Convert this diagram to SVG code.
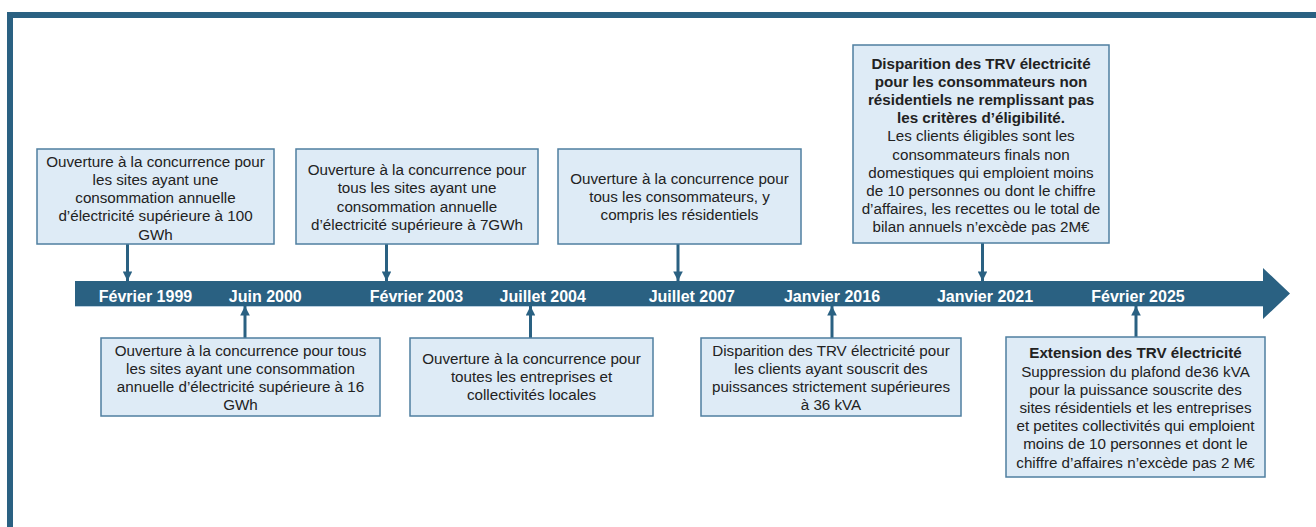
<svg xmlns="http://www.w3.org/2000/svg" width="1316" height="527" viewBox="0 0 1316 527">
<defs>
<style>
.box{fill:#deebf6;stroke:#4f7fa0;stroke-width:1.5}
.t{font-family:"Liberation Sans",Arial,sans-serif;font-size:15.2px;fill:#222;text-anchor:middle}
.b{font-weight:bold}
.lbl{font-family:"Liberation Sans",Arial,sans-serif;font-size:16px;font-weight:bold;fill:#ffffff;text-anchor:middle}
.con{stroke:#2a6182;stroke-width:3;fill:none}
</style>
<marker id="ah" viewBox="0 0 10 10" refX="10" refY="5" markerWidth="3.2" markerHeight="3.2" markerUnits="strokeWidth" orient="auto">
<path d="M0,0 L10,5 L0,10 Z" fill="#2a6182"/>
</marker>
</defs>
<rect width="1316" height="527" fill="#ffffff"/>
<rect x="10" y="15" width="1400" height="600" fill="none" stroke="#2a6182" stroke-width="6"/>
<g id="timeline">
<path d="M75,281 L1263,281 L1263,268 L1290,293.5 L1263,319 L1263,306 L75,306 Z" fill="#2a6182"/>
<line x1="75" y1="306.5" x2="1263" y2="306.5" stroke="#b9cfe0" stroke-width="1"/>
<text class="lbl" x="145.5" y="301.5">Février 1999</text>
<text class="lbl" x="265.3" y="301.5">Juin 2000</text>
<text class="lbl" x="416.5" y="301.5">Février 2003</text>
<text class="lbl" x="542.7" y="301.5">Juillet 2004</text>
<text class="lbl" x="691.8" y="301.5">Juillet 2007</text>
<text class="lbl" x="832" y="301.5">Janvier 2016</text>
<text class="lbl" x="985" y="301.5">Janvier 2021</text>
<text class="lbl" x="1138" y="301.5">Février 2025</text>
</g>
<g id="connectors">
<line class="con" x1="127.5" y1="244" x2="127.5" y2="281" marker-end="url(#ah)"/>
<line class="con" x1="386.5" y1="244" x2="386.5" y2="281" marker-end="url(#ah)"/>
<line class="con" x1="678" y1="244" x2="678" y2="281" marker-end="url(#ah)"/>
<line class="con" x1="982.5" y1="243" x2="982.5" y2="281" marker-end="url(#ah)"/>
<line class="con" x1="245" y1="338" x2="245" y2="306" marker-end="url(#ah)"/>
<line class="con" x1="530.5" y1="338" x2="530.5" y2="306" marker-end="url(#ah)"/>
<line class="con" x1="832" y1="338" x2="832" y2="306" marker-end="url(#ah)"/>
<line class="con" x1="1136" y1="337" x2="1136" y2="306" marker-end="url(#ah)"/>
</g>
<g id="n-1999">
<rect class="box" x="37" y="149" width="237" height="95"/>
<text class="t"><tspan x="155.5" y="166.7">Ouverture à la concurrence pour</tspan><tspan x="155.5" y="184.9">les sites ayant une</tspan><tspan x="155.5" y="203.1">consommation annuelle</tspan><tspan x="155.5" y="221.3">d’électricité supérieure à 100</tspan><tspan x="155.5" y="239.5">GWh</tspan></text>
</g>
<g id="n-2003">
<rect class="box" x="296" y="149" width="242" height="95"/>
<text class="t"><tspan x="417" y="175.2">Ouverture à la concurrence pour</tspan><tspan x="417" y="193.4">tous les sites ayant une</tspan><tspan x="417" y="211.6">consommation annuelle</tspan><tspan x="417" y="229.8">d’électricité supérieure à 7GWh</tspan></text>
</g>
<g id="n-2007">
<rect class="box" x="558" y="149" width="243" height="95"/>
<text class="t"><tspan x="679.5" y="184">Ouverture à la concurrence pour</tspan><tspan x="679.5" y="202.2">tous les consommateurs, y</tspan><tspan x="679.5" y="220.4">compris les résidentiels</tspan></text>
</g>
<g id="n-2021">
<rect class="box" x="853" y="45" width="256" height="198"/>
<text class="t"><tspan class="b" x="981" y="68.5">Disparition des TRV électricité</tspan><tspan class="b" x="981" y="86.7">pour les consommateurs non</tspan><tspan class="b" x="981" y="104.9">résidentiels ne remplissant pas</tspan><tspan class="b" x="981" y="123.1">les critères d’éligibilité.</tspan><tspan x="981" y="141.3">Les clients éligibles sont les</tspan><tspan x="981" y="159.5">consommateurs finals non</tspan><tspan x="981" y="177.7">domestiques qui emploient moins</tspan><tspan x="981" y="195.9">de 10 personnes ou dont le chiffre</tspan><tspan x="981" y="214.1">d’affaires, les recettes ou le total de</tspan><tspan x="981" y="232.3">bilan annuels n’excède pas 2M€</tspan></text>
</g>
<g id="n-2000">
<rect class="box" x="101" y="338" width="279" height="78"/>
<text class="t"><tspan x="240.5" y="355.5">Ouverture à la concurrence pour tous</tspan><tspan x="240.5" y="373.7">les sites ayant une consommation</tspan><tspan x="240.5" y="391.9">annuelle d’électricité supérieure à 16</tspan><tspan x="240.5" y="410.1">GWh</tspan></text>
</g>
<g id="n-2004">
<rect class="box" x="410" y="338" width="243" height="78"/>
<text class="t"><tspan x="531.5" y="364">Ouverture à la concurrence pour</tspan><tspan x="531.5" y="382.2">toutes les entreprises et</tspan><tspan x="531.5" y="400.4">collectivités locales</tspan></text>
</g>
<g id="n-2016">
<rect class="box" x="701" y="338" width="260" height="78"/>
<text class="t"><tspan x="831" y="355.5">Disparition des TRV électricité pour</tspan><tspan x="831" y="373.7">les clients ayant souscrit des</tspan><tspan x="831" y="391.9">puissances strictement supérieures</tspan><tspan x="831" y="410.1">à 36 kVA</tspan></text>
</g>
<g id="n-2025">
<rect class="box" x="1006" y="337" width="259" height="140"/>
<text class="t"><tspan class="b" x="1135.5" y="358.4">Extension des TRV électricité</tspan><tspan x="1135.5" y="376.6">Suppression du plafond de36 kVA</tspan><tspan x="1135.5" y="394.8">pour la puissance souscrite des</tspan><tspan x="1135.5" y="413">sites résidentiels et les entreprises</tspan><tspan x="1135.5" y="431.2">et petites collectivités qui emploient</tspan><tspan x="1135.5" y="449.4">moins de 10 personnes et dont le</tspan><tspan x="1135.5" y="467.6">chiffre d’affaires n’excède pas 2 M€</tspan></text>
</g>
</svg>
